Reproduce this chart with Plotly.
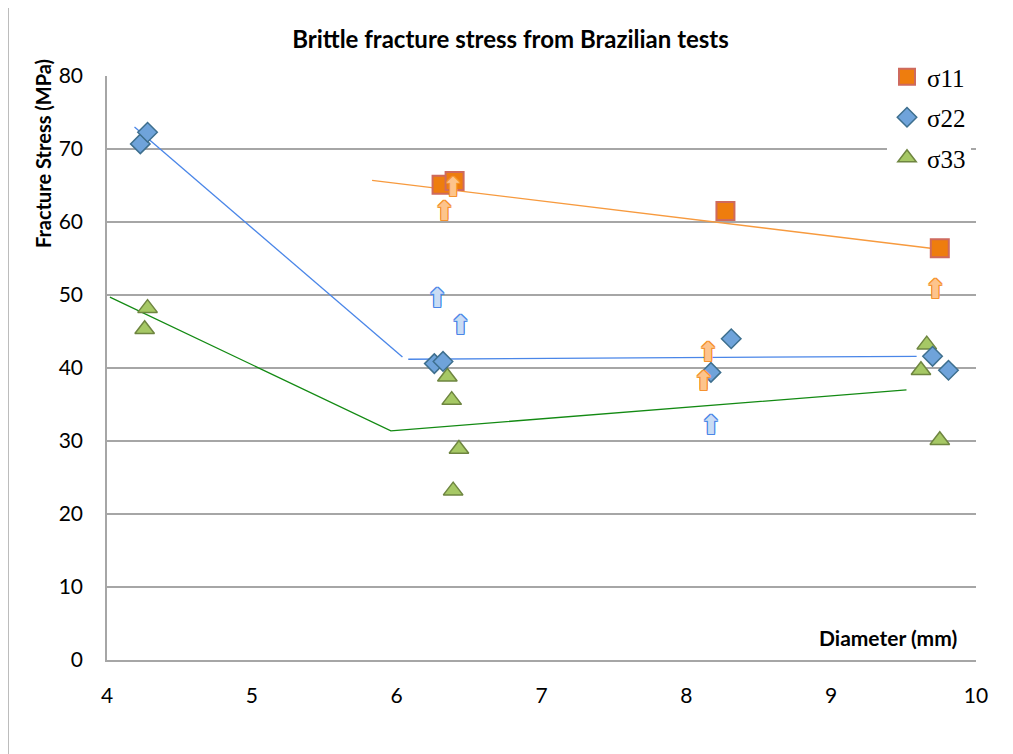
import plotly.graph_objects as go

# ---- data ----
s11_d = [6.31, 6.40, 8.27, 9.75]
s11_v = [65.1, 65.6, 61.5, 56.4]

s22_d = [4.23, 4.28, 6.26, 6.32, 8.17, 8.31, 9.70, 9.81]
s22_v = [70.7, 72.3, 40.6, 40.9, 39.4, 44.0, 41.6, 39.7]

s33_d = [4.26, 4.28, 6.35, 6.38, 6.43, 6.39, 9.66, 9.62, 9.75]
s33_v = [45.3, 48.2, 38.8, 35.6, 28.9, 23.2, 43.2, 39.7, 30.1]

arrow11_d = [6.33, 6.39, 8.15, 8.12, 9.72]
arrow11_v = [61.2, 64.4, 41.9, 37.9, 50.5]

arrow22_d = [6.28, 6.44, 8.17]
arrow22_v = [49.2, 45.6, 31.9]

trend11_d = [5.83, 9.73]
trend11_v = [65.7, 56.3]
trend22a_d = [4.19, 6.04]
trend22a_v = [73.0, 41.5]
trend22b_d = [6.08, 9.59]
trend22b_v = [41.2, 41.6]
trend33_d = [4.02, 5.96, 9.52]
trend33_v = [49.7, 31.4, 37.0]

x_ticks = [4, 5, 6, 7, 8, 9, 10]
y_ticks = [0, 10, 20, 30, 40, 50, 60, 70, 80]

fig = go.Figure()

# trend lines
fig.add_trace(go.Scatter(x=trend11_d, y=trend11_v, mode="lines",
                         line=dict(color="#F79A3E", width=1.3), showlegend=False, hoverinfo="skip"))
fig.add_trace(go.Scatter(x=trend22a_d, y=trend22a_v, mode="lines",
                         line=dict(color="#4A86E8", width=1.3), showlegend=False, hoverinfo="skip"))
fig.add_trace(go.Scatter(x=trend22b_d, y=trend22b_v, mode="lines",
                         line=dict(color="#4A86E8", width=1.3), showlegend=False, hoverinfo="skip"))
fig.add_trace(go.Scatter(x=trend33_d, y=trend33_v, mode="lines",
                         line=dict(color="#138A13", width=1.3), showlegend=False, hoverinfo="skip"))

# data markers
fig.add_trace(go.Scatter(x=s33_d, y=s33_v, mode="markers", name="σ33", legendgroup="c", legendrank=3,
                         marker=dict(symbol="triangle-up", size=17, color="#A6C865",
                                     line=dict(color="#6E8540", width=1.5))))
fig.add_trace(go.Scatter(x=s22_d, y=s22_v, mode="markers", name="σ22", legendgroup="b", legendrank=2,
                         marker=dict(symbol="diamond", size=15, color="#6FA3DA",
                                     line=dict(color="#3E6F8E", width=1.5))))
fig.add_trace(go.Scatter(x=s11_d, y=s11_v, mode="markers", name="σ11", legendgroup="a", legendrank=1,
                         marker=dict(symbol="square", size=18, color="#EE7D0E",
                                     line=dict(color="#CE6A5E", width=2))))

# lower-bound arrows (filled arrow glyph with an outline drawn by text-shadow)
AS = 26

def outline(c):
    return ", ".join(f"{dx}px {dy}px 0 {c}" for dx, dy in
                     [(1, 0), (-1, 0), (0, 1), (0, -1), (1, 1), (-1, -1), (1, -1), (-1, 1)])

fig.add_trace(go.Scatter(x=arrow11_d, y=arrow11_v, mode="text", text=["⬆"] * len(arrow11_d),
                         textfont=dict(family="DejaVu Sans", size=AS, color="#FDC48C",
                                       shadow=outline("#F5922F")),
                         showlegend=False, hoverinfo="skip"))
fig.add_trace(go.Scatter(x=arrow22_d, y=arrow22_v, mode="text", text=["⬆"] * len(arrow22_d),
                         textfont=dict(family="DejaVu Sans", size=AS, color="#C9DCF4",
                                       shadow=outline("#4A86E8")),
                         showlegend=False, hoverinfo="skip"))

OFF = 8  # page offset of the figure div
W, H = 1005, 746
L, T = 107 - OFF, 76 - OFF
R = W - (976 - OFF)
B = H - (660 - OFF)
pw, ph = W - L - R, H - T - B

def px_x(p):
    return (p - OFF - L) / pw

def px_y(p):
    return (H - B - (p - OFF)) / ph

fig.update_layout(
    width=W, height=H,
    margin=dict(l=L, r=R, t=T, b=B),
    paper_bgcolor="white", plot_bgcolor="white",
    font=dict(family="Lato", color="black"),
    title=dict(text="<b>Brittle fracture stress from Brazilian tests</b>",
               x=0.5, xanchor="center", y=1 - (40 - OFF) / H, yanchor="middle",
               font=dict(family="Lato", size=24, color="black")),
    xaxis=dict(range=[4, 10], tickvals=x_ticks, showgrid=False, zeroline=False,
               showline=True, linecolor="#A6A6A6", linewidth=1.5,
               ticks="", tickfont=dict(size=21), ticklabelstandoff=16),
    yaxis=dict(range=[0, 80], tickvals=y_ticks, showgrid=True, gridcolor="#A6A6A6", gridwidth=1.5,
               zeroline=False, showline=True, linecolor="#A6A6A6", linewidth=1.5,
               ticks="", tickfont=dict(size=21), ticklabelstandoff=18),
    legend=dict(x=px_x(887), y=px_y(54), xanchor="left", yanchor="top",
                bgcolor="white", borderwidth=0, tracegroupgap=5,
                font=dict(family="Liberation Serif", size=25, color="black"),
                itemsizing="trace"),
    showlegend=True,
)

fig.add_annotation(text="<b>Fracture Stress (MPa)</b>", textangle=-90,
                   xref="paper", yref="paper", x=px_x(43), y=px_y(154),
                   xanchor="center", yanchor="middle", showarrow=False,
                   font=dict(family="Lato", size=20, color="black"))
fig.add_annotation(text="<b>Diameter (mm)</b>",
                   xref="paper", yref="paper", x=px_x(888), y=px_y(637),
                   xanchor="center", yanchor="middle", showarrow=False,
                   font=dict(family="Lato", size=21, color="black"))

# outer chart frame
fig.add_shape(type="path", xref="paper", yref="paper",
              path=f"M {px_x(8)} {px_y(770)} L {px_x(8)} {px_y(5)} L {px_x(1030)} {px_y(5)}",
              line=dict(color="#A6A6A6", width=1.5), layer="below")

fig.write_html("out.html")
